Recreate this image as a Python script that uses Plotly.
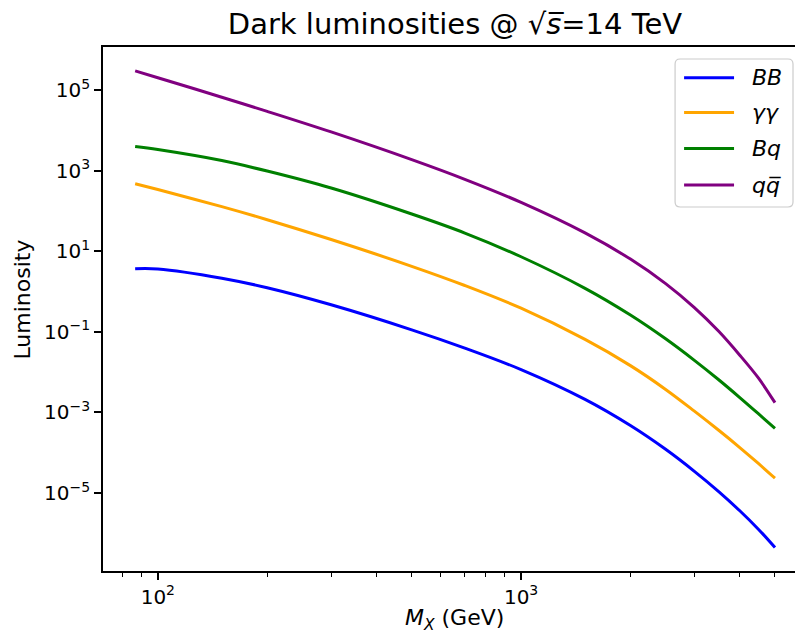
import plotly.graph_objects as go

# ---- data ----
mass = [86.6, 100, 150, 200, 300, 500, 700, 1000, 1500, 2000, 2500, 3000, 3500, 4000, 4500, 5000]
lum_BB = [3.68, 3.63, 2.14, 1.24, 0.468, 0.112, 0.0394, 0.01153, 2.10e-3, 4.71e-4, 1.21e-4,
          3.44e-5, 1.08e-5, 3.61e-6, 1.26e-6, 4.40e-7]
lum_gg = [475, 340, 128, 60.7, 19.5, 4.22, 1.41, 0.385, 0.0646, 0.01445, 3.71e-3,
          1.07e-3, 3.59e-4, 1.34e-4, 5.40e-5, 2.32e-5]
lum_Bq = [3980, 3340, 1780, 977, 370, 83.8, 28.3, 7.29, 1.20, 0.261, 0.0670,
          0.01954, 6.44e-3, 2.33e-3, 9.25e-4, 4.00e-4]
lum_qq = [3.01e5, 2.03e5, 6.65e4, 2.97e4, 9.16e3, 1.88e3, 610, 163, 28.5, 6.38, 1.57,
          0.399, 0.1028, 0.0263, 7.16e-3, 1.74e-3]

series_names = ["<i>BB</i>", "<i>γγ</i>", "<i>Bq</i>", "<i>q</i><i>q\u0305</i>"]
series_vals = [lum_BB, lum_gg, lum_Bq, lum_qq]
series_colors = ["#0000ff", "#ffa500", "#008000", "#800080"]

x_major = [100, 1000]
x_major_text = ["10<sup>2</sup>", "10<sup>3</sup>"]
x_minor = [80, 90, 200, 300, 400, 500, 600, 700, 800, 900, 2000, 3000, 4000, 5000]
y_major = [1e-5, 1e-3, 1e-1, 1e1, 1e3, 1e5]
y_major_text = ["10<sup>\u22125</sup>", "10<sup>\u22123</sup>", "10<sup>\u22121</sup>",
                "10<sup>1</sup>", "10<sup>3</sup>", "10<sup>5</sup>"]

# ---- layout geometry (pixels) ----
W, H = 795, 634
L, R, T, B = 102.5, 795, 47, 571
FONT = "DejaVu Sans"


def px(xp):
    return (xp - L) / (R - L)


def py(yp):
    return (B - yp) / (B - T)


fig = go.Figure()
for name, vals, col in zip(series_names, series_vals, series_colors):
    fig.add_trace(go.Scatter(x=mass, y=vals, mode="lines", name=name,
                             line=dict(color=col, width=3, shape="spline", smoothing=1.0),
                             showlegend=False))

fig.update_layout(
    width=W, height=H,
    margin=dict(l=L, r=W - R, t=T, b=H - B, pad=0),
    paper_bgcolor="white", plot_bgcolor="white",
    font=dict(family=FONT, size=20, color="black"),
    title=dict(text="Dark luminosities @ √<i>s\u0305</i>=14 TeV", x=455 / W, xanchor="center",
               y=1 - 24 / H, yanchor="middle", yref="container",
               font=dict(size=29, family=FONT, color="black")),
)

fig.update_xaxes(type="log", range=[1.849, 1.849 + (R - L) / 363.5],
                 showline=True, linecolor="black", linewidth=1.6, mirror=True,
                 showgrid=False, zeroline=False,
                 ticks="outside", ticklen=7, tickwidth=1.6, tickcolor="black",
                 tickmode="array", tickvals=x_major, ticktext=x_major_text,
                 tickfont=dict(size=20, family=FONT),
                 minor=dict(ticks="outside", ticklen=4, tickwidth=1.2, tickcolor="black",
                            tickmode="array", tickvals=x_minor, showgrid=False))
fig.update_yaxes(type="log", range=[-6.938, 6.07],
                 showline=True, linecolor="black", linewidth=1.6, mirror=False,
                 showgrid=False, zeroline=False,
                 ticks="outside", ticklen=7, tickwidth=1.6, tickcolor="black",
                 tickmode="array", tickvals=y_major, ticktext=y_major_text,
                 tickfont=dict(size=20, family=FONT))

# axis titles
fig.add_annotation(text="Luminosity", textangle=-90, x=px(21), y=py(300), xref="paper", yref="paper",
                   xanchor="center", yanchor="middle", showarrow=False, font=dict(size=22, family=FONT))
fig.add_annotation(text="<i>M</i><sub><i>X</i></sub> (GeV)", x=px(454), y=py(619), xref="paper", yref="paper",
                   xanchor="center", yanchor="middle", showarrow=False, font=dict(size=22, family=FONT))

# legend (drawn manually to match matplotlib's frame)
x0, x1, y0, y1, r = px(675), px(793), py(59), py(207), 5
rx, ry = r / (R - L), r / (B - T)
path = (f"M {x0+rx},{y0} L {x1-rx},{y0} Q {x1},{y0} {x1},{y0-ry} "
        f"L {x1},{y1+ry} Q {x1},{y1} {x1-rx},{y1} L {x0+rx},{y1} Q {x0},{y1} {x0},{y1+ry} "
        f"L {x0},{y0-ry} Q {x0},{y0} {x0+rx},{y0} Z")
fig.add_shape(type="path", path=path, xref="paper", yref="paper",
              line=dict(color="#cccccc", width=1.2), fillcolor="rgba(255,255,255,0.8)")
rows = [77.7, 112.5, 148.5, 185]
for name, col, ry_ in zip(series_names, series_colors, rows):
    fig.add_shape(type="line", xref="paper", yref="paper", x0=px(684), x1=px(734), y0=py(ry_), y1=py(ry_),
                  line=dict(color=col, width=3))
    fig.add_annotation(text=name, x=px(750), y=py(ry_), xref="paper", yref="paper",
                       xanchor="left", yanchor="middle", showarrow=False,
                       font=dict(size=22, family=FONT))

fig.write_html("out.html")
